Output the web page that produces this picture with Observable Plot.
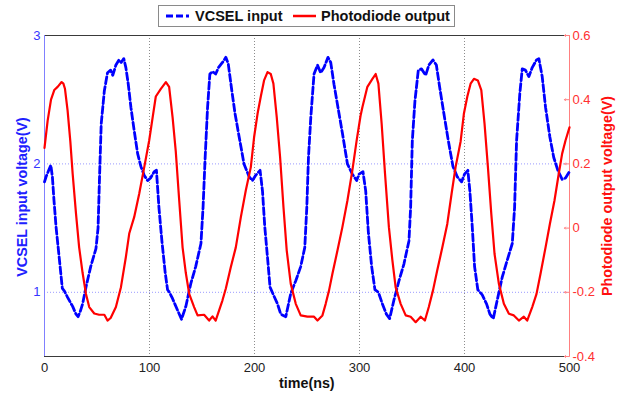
<!DOCTYPE html>
<html>
<head>
<meta charset="utf-8">
<script src="https://cdn.jsdelivr.net/npm/d3@7"></script>
<script src="https://cdn.jsdelivr.net/npm/@observablehq/plot@0.6"></script>
<style>
  html, body { margin: 0; padding: 0; background: #fff; }
  #wrap { position: relative; width: 628px; height: 395px; font-family: "Liberation Sans", Arial, sans-serif; }
  #wrap svg.plot { position: absolute; left: 0; top: 0; }
  .lbl { position: absolute; font-weight: bold; font-size: 14.3px; white-space: nowrap; }
  #legend { position: absolute; left: 158px; top: 5px; width: 297px; height: 22px; border: 1px solid #8a8a8a; background: #fff; box-sizing: border-box; }
</style>
</head>
<body>
<div id="wrap">
  <div id="legend">
    <svg width="295" height="20" style="position:absolute;left:0;top:0">
      <line x1="7" x2="30" y1="10" y2="10" stroke="#0000ff" stroke-width="3" stroke-dasharray="7,3"></line>
      <text x="36" y="15" font-family="Liberation Sans, Arial, sans-serif" font-weight="bold" font-size="14.5" fill="#111">VCSEL input</text>
      <line x1="134" x2="157" y1="10" y2="10" stroke="#ff0000" stroke-width="2.5"></line>
      <text x="162" y="15" font-family="Liberation Sans, Arial, sans-serif" font-weight="bold" font-size="14.5" fill="#111">Photodiode output</text>
    </svg>
  </div>
</div>
<script>
// VCSEL input (left axis, V)
const vcselTime = [0,1.5,4,6,7.5,9,11,14,17,19,22,26.8,30,32,34,36.3,39.5,44,49,51,52.5,54,57,60,63,65,68,71,73,75.5,77.5,79.8,82.3,85.4,88.7,91.8,95,98.2,
  101,104.5,106.6,109,111.8,115,117.2,119,122,126.7,130.5,134.6,139.4,144,149,151,153,155.3,157.5,160,163,165.7,169.5,172.7,175,178.4,181.5,185.4,190,194.9,198,
  201,205.3,207.6,209.8,212.4,214.8,218,221.9,225,229.8,234.5,239.3,244,247.9,249.8,251.4,253.6,256.7,260,263,266.2,270,272.6,275.7,279.5,283.7,288.5,293.2,297.3,
  299.5,303.3,305.9,308.5,311.6,314.7,318,321.8,325.6,328.7,332.8,337.6,342.3,347.1,348.7,350.3,352.8,356,359,363,366.1,370,373.2,376.3,380.4,384.6,389,393.1,397.2,
  400,403.2,405.1,407.4,409.6,412.7,416.9,421,424.2,427.4,431.2,436,440.7,445.5,447.7,449.6,452.7,455,458,461.3,464.5,468.6,470.8,474,477.2,481.3,485,488.9,493,496.2,500];
const vcselVolt = [1.86,1.90,1.95,1.99,1.90,1.72,1.51,1.27,1.03,1.01,0.96,0.89,0.83,0.81,0.85,0.91,1.04,1.2,1.34,1.5,1.92,2.31,2.57,2.71,2.73,2.69,2.77,2.81,2.79,2.82,2.75,2.62,2.44,2.26,2.08,1.98,1.91,1.87,
  1.89,1.94,1.95,1.66,1.40,1.15,1.02,1.0,0.95,0.86,0.79,0.89,1.07,1.2,1.38,1.66,2.05,2.44,2.70,2.72,2.70,2.75,2.79,2.83,2.78,2.57,2.39,2.21,2.0,1.90,1.87,
  1.91,1.95,1.79,1.51,1.27,1.04,0.98,0.91,0.83,0.81,0.99,1.09,1.2,1.35,1.66,2.05,2.36,2.70,2.77,2.71,2.75,2.83,2.79,2.62,2.44,2.24,2.0,1.92,1.87,
  1.92,1.94,1.79,1.46,1.2,1.02,1.0,0.91,0.83,0.795,0.94,1.09,1.22,1.40,1.66,2.18,2.49,2.73,2.74,2.69,2.77,2.81,2.77,2.6,2.39,2.18,1.98,1.90,1.86,
  1.92,1.95,1.79,1.51,1.2,1.02,0.98,0.91,0.83,0.795,0.94,1.12,1.25,1.38,1.66,2.18,2.55,2.74,2.73,2.68,2.75,2.81,2.82,2.68,2.44,2.21,2.05,1.95,1.88,1.89,1.94];

// Photodiode output (right axis, V)
const pdTime = [0,3,6.2,9.3,12.5,16.3,18,19.5,22,24.6,26.8,30,33,36.3,39.5,42.6,47.4,52,57,60,63,68,72.8,77.5,80.7,85.4,90.2,95,99.7,
  103,106,110.8,115.6,118.7,122,125,128.3,131.5,134.6,137.8,142.5,145.8,152,156.8,160,163,169.5,172.7,177.4,182.2,187,191.7,196.5,199.6,
  202.9,206,209.1,212.4,215.5,218,221.2,224.4,227.6,230.7,234.5,239.3,244,250.4,256.7,260,264.7,267.8,271,274.2,279,283.7,288.5,293.2,297.3,
  301,302.8,307.5,312.3,315.4,318,321.1,324.3,328,331.3,334.4,339.2,344,348.7,353.5,358.3,362.3,366,370,374,378.9,383.6,387.7,391.5,396.3,
  399.4,402.7,405.8,409,412.7,416,419.1,422.3,425.5,428.6,432.7,437.5,442.3,447,451.8,456.5,459.7,464.5,468.6,472.4,477.2,481.3,485.7,489.8,493,496.2,500];
const pdVolt = [0.25,0.335,0.40,0.43,0.44,0.455,0.45,0.434,0.366,0.27,0.17,0.045,-0.06,-0.14,-0.205,-0.246,-0.266,-0.27,-0.27,-0.288,-0.28,-0.246,-0.184,-0.09,-0.017,0.034,0.107,0.19,0.273,
  0.345,0.41,0.434,0.455,0.44,0.345,0.24,0.086,-0.06,-0.14,-0.205,-0.246,-0.272,-0.27,-0.288,-0.275,-0.288,-0.225,-0.188,-0.122,-0.06,0.034,0.117,0.19,0.283,
  0.356,0.41,0.46,0.486,0.48,0.45,0.345,0.22,0.065,-0.07,-0.173,-0.236,-0.272,-0.276,-0.276,-0.288,-0.272,-0.236,-0.194,-0.142,-0.07,0.003,0.086,0.18,0.273,
  0.35,0.377,0.44,0.465,0.48,0.45,0.325,0.17,0.003,-0.1,-0.184,-0.236,-0.272,-0.276,-0.293,-0.276,-0.288,-0.246,-0.194,-0.132,-0.06,0.013,0.107,0.19,0.27,
  0.356,0.41,0.45,0.465,0.46,0.43,0.325,0.19,0.045,-0.08,-0.173,-0.236,-0.267,-0.272,-0.288,-0.276,-0.288,-0.246,-0.205,-0.142,-0.06,0.013,0.086,0.17,0.232,0.273,0.314];

// axis tick values
const xTicks = [0,100,200,300,400,500];
const leftTicks = [1,2,3];
const rightTicks = [-0.4,-0.2,0,0.2,0.4,0.6];

// right axis maps linearly onto left axis: right = 0.4*left - 0.6
const toLeft = r => (r + 0.6) / 0.4;

const vcsel = vcselTime.map((t,i) => ({t, v: vcselVolt[i]}));
const pd = pdTime.map((t,i) => ({t, r: pdVolt[i]}));

const plot = Plot.plot({
  width: 628,
  height: 395,
  marginLeft: 44,
  marginRight: 59,
  marginTop: 35,
  marginBottom: 39,
  style: {fontFamily: "Liberation Sans, Arial, sans-serif", fontSize: "13px", background: "transparent"},
  x: {domain: [0, 500]},
  y: {domain: [0.5, 3]},
  marks: [
    Plot.gridX(xTicks.slice(1, -1), {stroke: "#8c8c8c", strokeOpacity: 1, strokeDasharray: "1,2"}),
    Plot.gridY(leftTicks.slice(0, 2), {stroke: "#9a9aff", strokeOpacity: 1, strokeDasharray: "1,2"}),
    Plot.ruleY([3], {stroke: "#3a3a3a", strokeWidth: 1}),
    Plot.ruleY([0.5], {stroke: "#3a3a3a", strokeWidth: 1}),
    Plot.ruleX([0], {stroke: "#8080ff", strokeWidth: 1}),
    Plot.ruleX([500], {stroke: "#ff8080", strokeWidth: 1}),
    Plot.vector(rightTicks.map(toLeft), {x: () => 500, y: d => d, length: 5, rotate: -90, anchor: "start", stroke: "#ff8080", strokeWidth: 1}),
    Plot.line(vcsel, {x: "t", y: "v", stroke: "#0000ff", strokeWidth: 2.8, strokeDasharray: "7,3"}),
    Plot.line(pd, {x: "t", y: d => toLeft(d.r), stroke: "#ff0000", strokeWidth: 2.2}),
    Plot.axisX({ticks: xTicks, tickSize: 0, tickPadding: 6, color: "#222", label: null, fontSize: 13}),
    Plot.axisY({anchor: "left", ticks: leftTicks, tickSize: 0, tickPadding: 4, color: "#3535ff", label: null, fontSize: 13, tickFormat: d => String(d)}),
    Plot.axisY({anchor: "right", ticks: rightTicks.map(toLeft), tickSize: 0, tickPadding: 3, color: "#ff3030", label: null, fontSize: 13,
      tickFormat: d => { const r = Math.round((0.4 * d - 0.6) * 10) / 10; return r === 0 ? "0" : r.toFixed(1); }})
  ]
});
plot.classList.add("plot");
const wrap = document.getElementById("wrap");
wrap.insertBefore(plot, wrap.firstChild);

function addLabel(text, color, cx, cy, rot) {
  const d = document.createElement("div");
  d.className = "lbl";
  d.textContent = text;
  d.style.color = color;
  wrap.appendChild(d);
  const w = d.offsetWidth, h = d.offsetHeight;
  d.style.left = (cx - w / 2) + "px";
  d.style.top = (cy - h / 2) + "px";
  if (rot) d.style.transform = "rotate(" + rot + "deg)";
}
addLabel("time(ns)", "#111", 307, 383, 0);
addLabel("VCSEL input voltage(V)", "#2020ff", 21, 197, -90);
addLabel("Photodiode output voltage(V)", "#ff1010", 607, 196, -90);
</script>
</body>
</html>
